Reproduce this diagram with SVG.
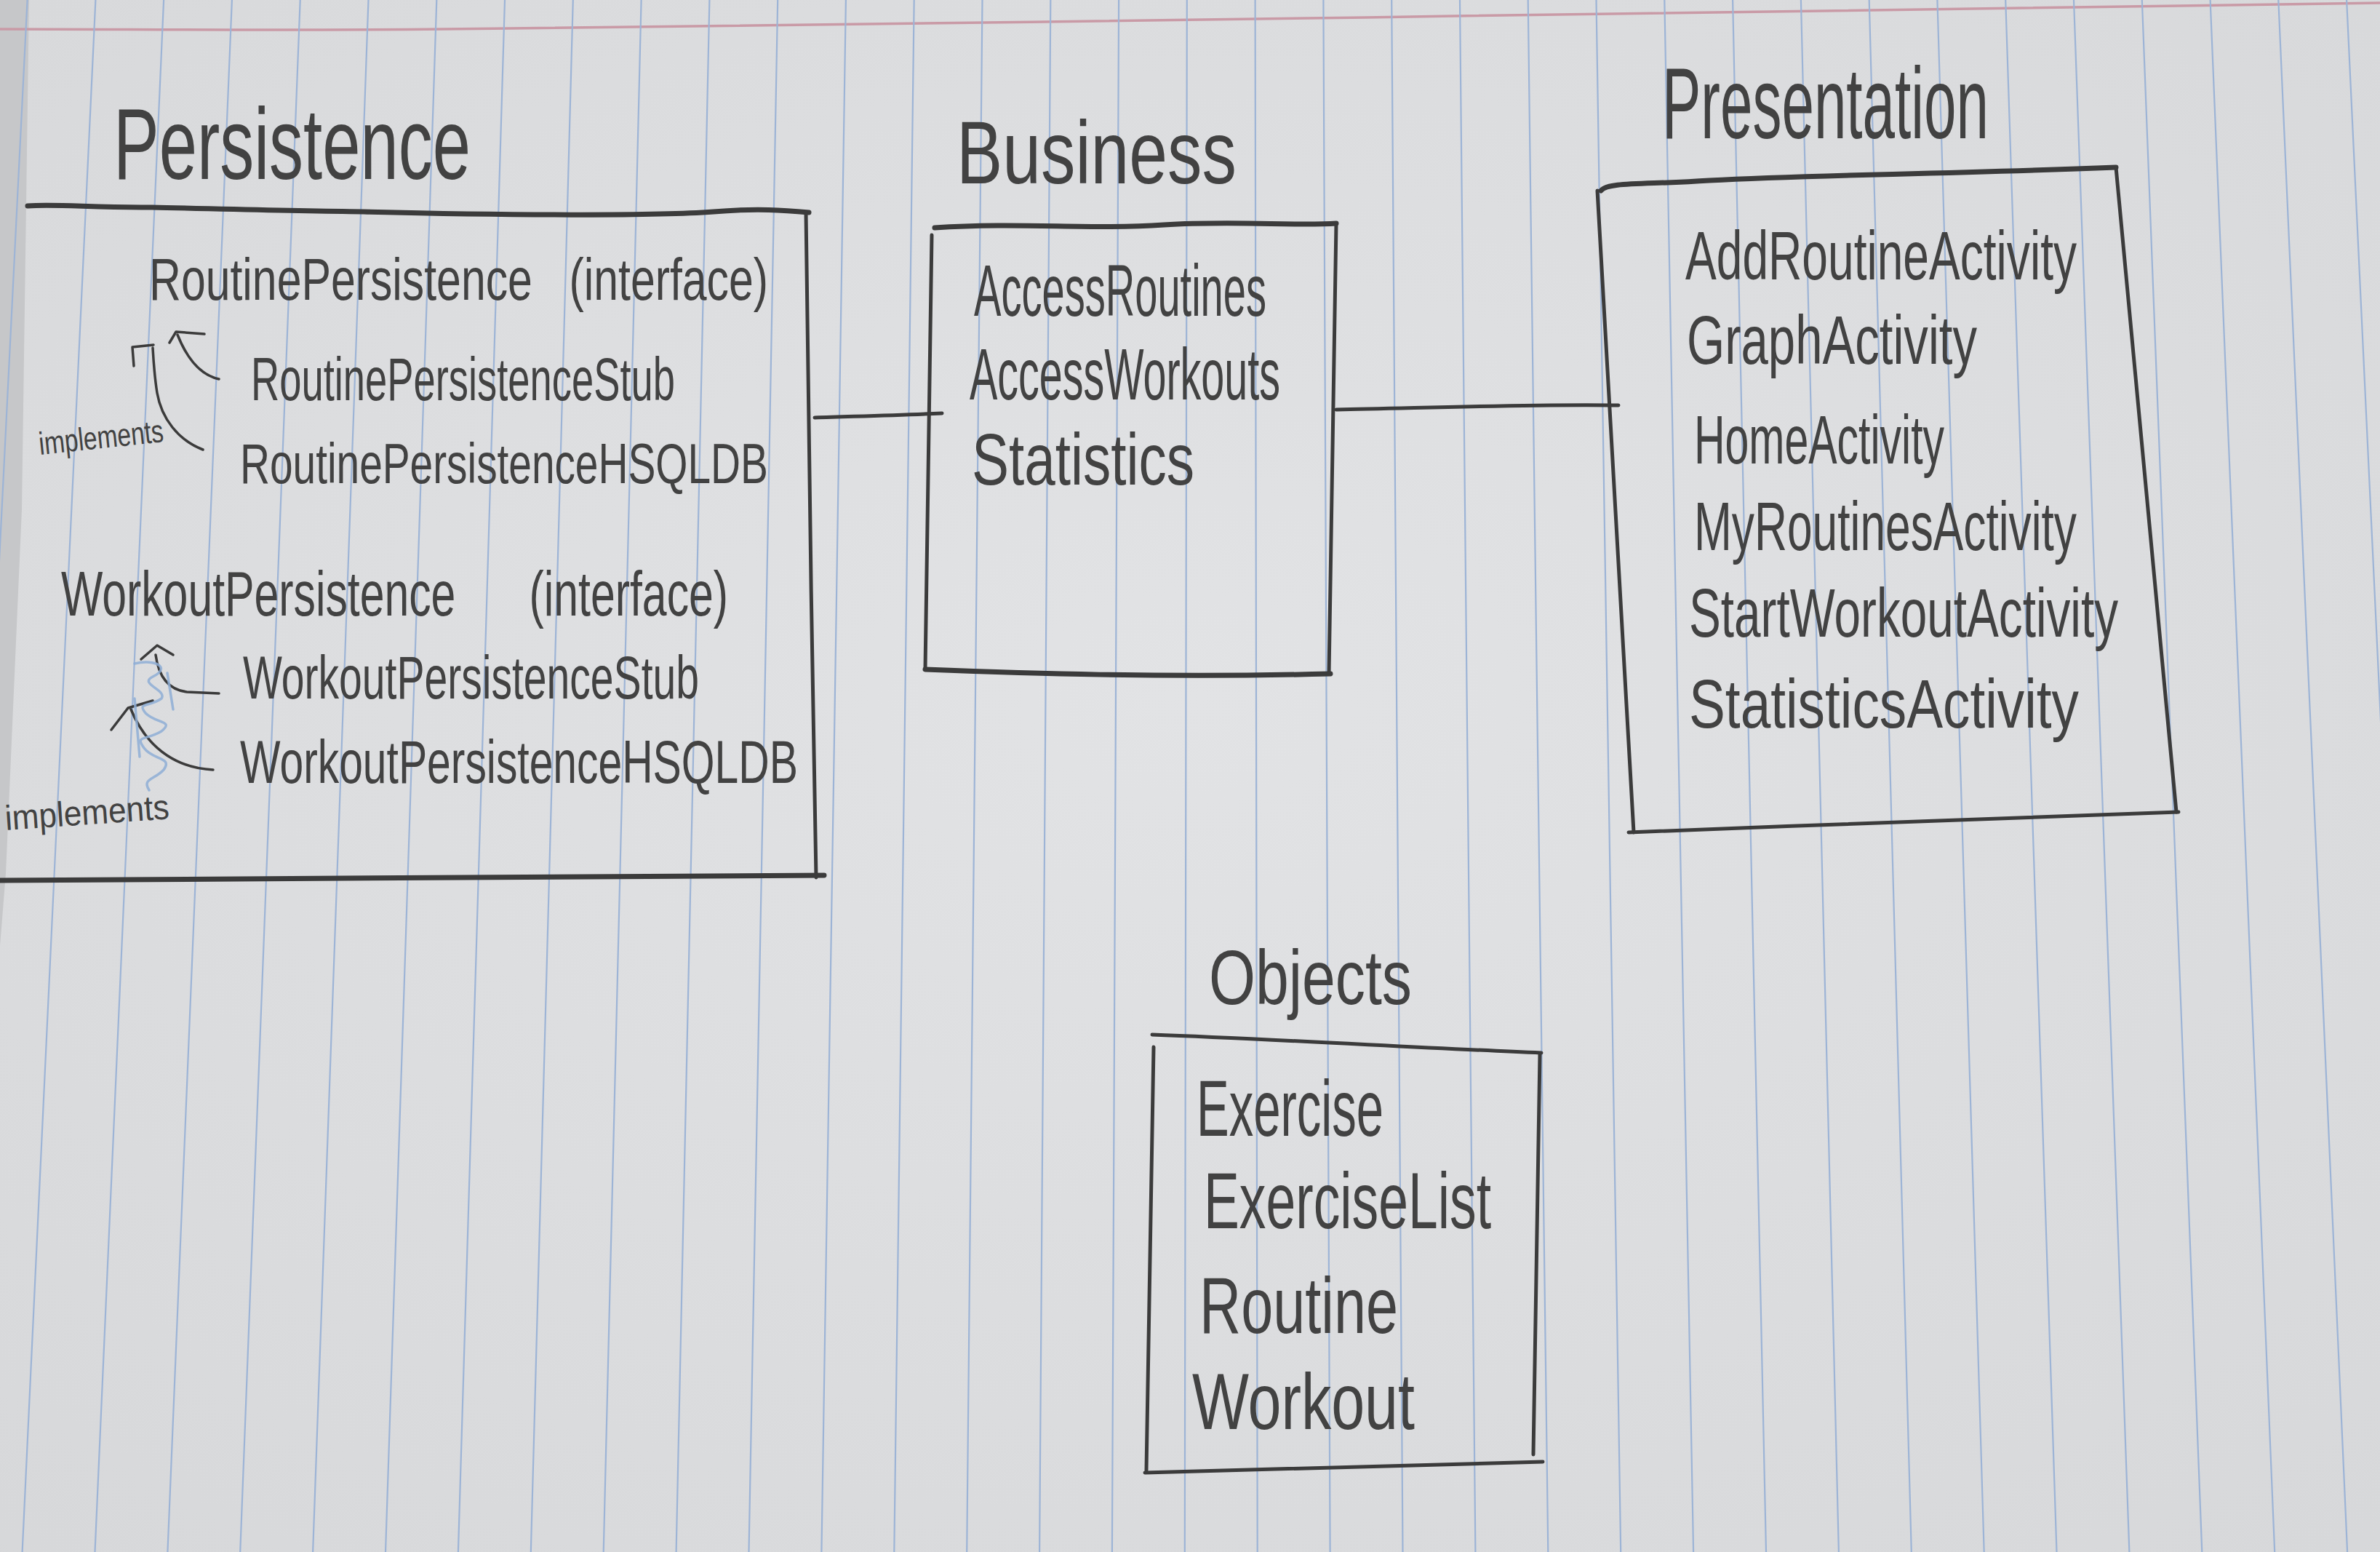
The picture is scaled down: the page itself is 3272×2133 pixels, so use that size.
<svg xmlns="http://www.w3.org/2000/svg" width="3272" height="2133" viewBox="0 0 3272 2133">
<defs>
<radialGradient id="paperGrad" cx="0.5" cy="0.45" r="0.8">
<stop offset="0" stop-color="#e2e3e5"/>
<stop offset="1" stop-color="#d6d7d9"/>
</radialGradient>
<style>
.rule{stroke:#9db4d6;stroke-width:2.2;fill:none}
.margin{stroke:#c99aa6;stroke-width:3.5;fill:none}
.pen{fill:none;stroke:#3b3b3b;stroke-width:5;stroke-linecap:round;stroke-linejoin:round}
.heavy{stroke-width:7}
.thin{stroke-width:3.5}
.hw{font-family:"Liberation Sans",Arial,sans-serif;fill:#424242}
.pre{white-space:pre}
.f44{font-size:44px}
.f48{font-size:48px}
.f78{font-size:78px}
.f81{font-size:81px}
.f84{font-size:84px}
.f88{font-size:88px}
.f95{font-size:95px}
.f100{font-size:100px}
.f105{font-size:105px}
.f110{font-size:110px}
.f122{font-size:122px}
.f140{font-size:140px}
</style>
</defs>
<g id="paper">
<rect x="0" y="0" width="3272" height="2133" fill="url(#paperGrad)"/>
<polygon points="0,0 40,0 30,700 8,1200 0,1300" fill="#c6c7c9"/>
<path class="margin" d="M0,40 C200,40 420,43 700,39 S1500,30 1878,24 S2600,12 3272,4"/>
<path class="rule" d="M37.6,0 L-69.3,2133 M131.4,0 L30.6,2133 M225.1,0 L130.5,2133 M318.9,0 L230.4,2133 M412.7,0 L330.2,2133 M506.5,0 L430.1,2133 M600.3,0 L530,2133 M694,0 L629.9,2133 M787.8,0 L729.8,2133 M881.6,0 L829.7,2133 M975.4,0 L929.6,2133 M1069.2,0 L1029.5,2133 M1162.9,0 L1129.4,2133 M1256.7,0 L1229.3,2133 M1350.5,0 L1329.2,2133 M1444.3,0 L1429.1,2133 M1538.1,0 L1528.9,2133 M1631.8,0 L1628.8,2133 M1725.6,0 L1728.7,2133 M1819.4,0 L1828.6,2133 M1913.2,0 L1928.5,2133 M2007,0 L2028.4,2133 M2100.7,0 L2128.3,2133 M2194.5,0 L2228.2,2133 M2288.3,0 L2328.1,2133 M2382.1,0 L2428,2133 M2475.9,0 L2527.9,2133 M2569.7,0 L2627.8,2133 M2663.4,0 L2727.7,2133 M2757.2,0 L2827.5,2133 M2851,0 L2927.4,2133 M2944.8,0 L3027.3,2133 M3038.6,0 L3127.2,2133 M3132.3,0 L3227.1,2133 M3226.1,0 L3327,2133"/>
</g>
<g id="connectors">
<path class="pen" d="M1120,574 C1180,572 1230,571 1295,568"/>
<path class="pen" d="M1837,563 C1950,561 2100,555 2225,557"/>
</g>
<g id="persistence">
<text class="hw f140" x="156" y="246" textLength="491" lengthAdjust="spacingAndGlyphs">Persistence</text>
<path class="pen heavy" d="M38,283 C80,280 130,286 209,285 C300,287 400,290 500,291 C700,296 900,297 981,291 C1040,286 1080,289 1112,292"/>
<path class="pen" d="M1108,292 C1112,600 1116,900 1122,1206"/>
<path class="pen heavy" d="M0,1210 C300,1208 700,1206 1133,1203"/>
<text class="hw f81 pre" xml:space="preserve" x="205" y="412" textLength="851" lengthAdjust="spacingAndGlyphs">RoutinePersistence   (interface)</text>
<text class="hw f84" x="345" y="550" textLength="583" lengthAdjust="spacingAndGlyphs">RoutinePersistenceStub</text>
<text class="hw f78" x="330" y="664" textLength="726" lengthAdjust="spacingAndGlyphs">RoutinePersistenceHSQLDB</text>
<text class="hw f88 pre" xml:space="preserve" x="84" y="846" textLength="917" lengthAdjust="spacingAndGlyphs">WorkoutPersistence      (interface)</text>
<text class="hw f84" x="334" y="960" textLength="627" lengthAdjust="spacingAndGlyphs">WorkoutPersistenceStub</text>
<text class="hw f84" x="330" y="1076" textLength="767" lengthAdjust="spacingAndGlyphs">WorkoutPersistenceHSQLDB</text>
<path class="pen thin" d="M301,521 C278,516 258,495 244,460"/>
<path class="pen thin" d="M233,471 L242,456 L281,459"/>
<path class="pen thin" d="M279,618 C245,605 222,575 216,540 C212,515 211,495 210,478"/>
<path class="pen thin" d="M184,503 L182,477 L211,474"/>
<path class="pen thin" d="M301,953 L257,951 C232,948 218,930 214,900"/>
<path class="pen thin" d="M194,906 L216,887 L238,900"/>
<path class="pen thin" d="M293,1058 C250,1056 205,1035 180,975"/>
<path class="pen thin" d="M153,1003 L176,973 L210,963"/>
<path d="M185,912 C215,905 235,918 210,930 C190,940 230,948 222,960 C205,972 188,965 200,980 C215,995 240,990 222,1005 C200,1018 185,1010 198,1028 C210,1045 238,1040 225,1058 C212,1072 195,1070 205,1086 M230,925 L238,975 M185,960 L192,1040" fill="none" stroke="#8eaed6" stroke-width="3.5" stroke-linecap="round" opacity="0.85"/>
<text class="hw f44" x="55" y="625" textLength="172" lengthAdjust="spacingAndGlyphs" transform="rotate(-6 55 625)">implements</text>
<text class="hw f48" x="8" y="1141" textLength="226" lengthAdjust="spacingAndGlyphs" transform="rotate(-4 8 1141)">implements</text>
</g>
<g id="business">
<text class="hw f122" x="1315" y="252" textLength="385" lengthAdjust="spacingAndGlyphs">Business</text>
<path class="pen heavy" d="M1285,313 C1400,305 1500,316 1600,309 C1700,303 1780,311 1837,307"/>
<path class="pen" d="M1837,307 L1827,926"/>
<path class="pen heavy" d="M1272,920 C1400,925 1600,932 1829,926"/>
<path class="pen" d="M1281,323 L1272,920"/>
<text class="hw f100" x="1339" y="434" textLength="402" lengthAdjust="spacingAndGlyphs">AccessRoutines</text>
<text class="hw f100" x="1333" y="549" textLength="427" lengthAdjust="spacingAndGlyphs">AccessWorkouts</text>
<text class="hw f100" x="1336" y="666" textLength="306" lengthAdjust="spacingAndGlyphs">Statistics</text>
</g>
<g id="presentation">
<text class="hw f140" x="2285" y="190" textLength="449" lengthAdjust="spacingAndGlyphs">Presentation</text>
<path class="pen heavy" d="M2201,262 C2210,250 2260,254 2350,248 C2500,240 2650,240 2909,230"/>
<path class="pen" d="M2909,230 L2992,1116"/>
<path class="pen" d="M2239,1144 C2500,1134 2800,1122 2995,1116"/>
<path class="pen" d="M2196,262 L2246,1144"/>
<text class="hw f95" x="2317" y="384" textLength="538" lengthAdjust="spacingAndGlyphs">AddRoutineActivity</text>
<text class="hw f95" x="2319" y="500" textLength="399" lengthAdjust="spacingAndGlyphs">GraphActivity</text>
<text class="hw f95" x="2329" y="637" textLength="344" lengthAdjust="spacingAndGlyphs">HomeActivity</text>
<text class="hw f95" x="2329" y="756" textLength="526" lengthAdjust="spacingAndGlyphs">MyRoutinesActivity</text>
<text class="hw f95" x="2322" y="875" textLength="590" lengthAdjust="spacingAndGlyphs">StartWorkoutActivity</text>
<text class="hw f95" x="2322" y="1000" textLength="536" lengthAdjust="spacingAndGlyphs">StatisticsActivity</text>
</g>
<g id="objects">
<text class="hw f105" x="1662" y="1380" textLength="279" lengthAdjust="spacingAndGlyphs">Objects</text>
<path class="pen" d="M1584,1422 C1750,1428 1950,1440 2119,1447"/>
<path class="pen" d="M2117,1449 L2108,1999"/>
<path class="pen" d="M1574,2024 C1800,2018 2000,2012 2121,2009"/>
<path class="pen" d="M1586,1439 L1576,2021"/>
<text class="hw f110" x="1645" y="1561" textLength="257" lengthAdjust="spacingAndGlyphs">Exercise</text>
<text class="hw f110" x="1655" y="1688" textLength="395" lengthAdjust="spacingAndGlyphs">ExerciseList</text>
<text class="hw f110" x="1649" y="1832" textLength="273" lengthAdjust="spacingAndGlyphs">Routine</text>
<text class="hw f110" x="1639" y="1964" textLength="306" lengthAdjust="spacingAndGlyphs">Workout</text>
</g>
</svg>
